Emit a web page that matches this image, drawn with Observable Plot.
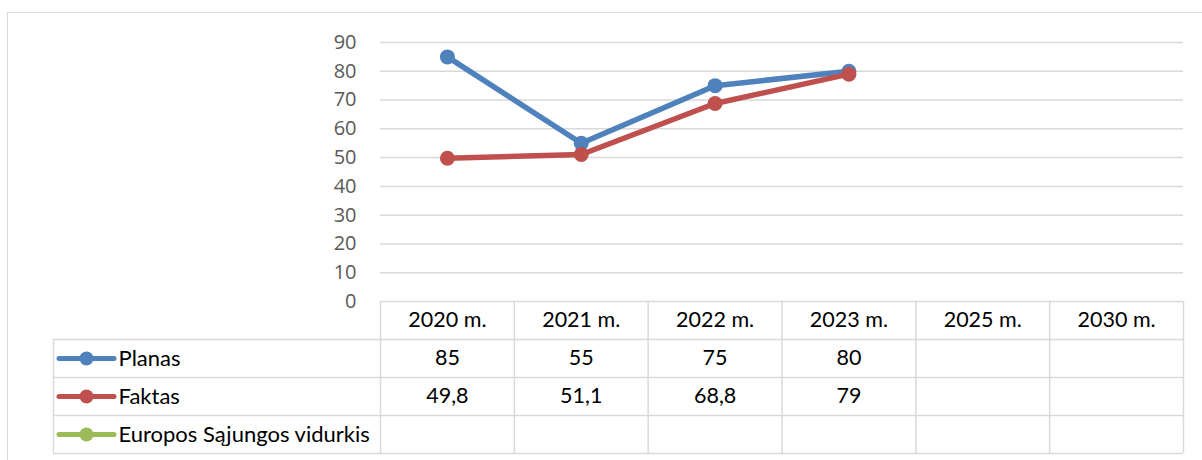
<!DOCTYPE html>
<html><head><meta charset="utf-8">
<script src="https://cdn.jsdelivr.net/npm/d3@7"></script>
<script src="https://cdn.jsdelivr.net/npm/@observablehq/plot@0.6"></script>
<style>
body{margin:0;background:#fff;}
#wrap{position:relative;width:1202px;height:460px;overflow:hidden;background:#fff;}
#border{position:absolute;left:7px;top:12px;width:1300px;height:600px;border:1.5px solid #d9d9d9;box-sizing:border-box}
#chart{position:absolute;left:0;top:0}
</style></head><body>
<div id="wrap"><div id="border"></div><div id="chart"></div></div>
<script>
// ---- data ----
const categories = ["2020 m.", "2021 m.", "2022 m.", "2023 m.", "2025 m.", "2030 m."];
const seriesNames = ["Planas", "Faktas", "Europos Sąjungos vidurkis"];
const planas = [85, 55, 75, 80, null, null];
const faktas = [49.8, 51.1, 68.8, 79, null, null];
const esVidurkis = [null, null, null, null, null, null];
const seriesColors = ["#4F81BD", "#C0504D", "#9BBB59"];
const yTicks = [0, 10, 20, 30, 40, 50, 60, 70, 80, 90];

const seriesValues = [planas, faktas, esVidurkis];
const rows = seriesNames.flatMap((s, k) =>
  categories.map((c, i) => ({series: s, category: c, value: seriesValues[k][i]})));

// ---- layout ----
const W = 1202, H = 460, mL = 380, mR = 19, mT = 42, mB = 159;
const plotH = H - mT - mB;
const bw = (W - mL - mR) / categories.length;
const rowH = 38;
const legendLeft = 53;
const grid = "#d9d9d9";
const fmt = v => String(v).replace(".", ",");
const txt = {fontFamily: "Lato", fontSize: 21.5, fill: "#000", lineAnchor: "middle"};

const marks = [];
// gridlines
marks.push(Plot.ruleY(yTicks.filter(t => t > 0), {stroke: grid, strokeWidth: 1.5}));
// y axis labels
marks.push(Plot.axisY(yTicks, {tickSize: 0, tickPadding: 24, label: null, fontFamily: "Open Sans", fontSize: 20, color: "#595959"}));

// data table grid
marks.push(Plot.ruleY([0], {stroke: grid, strokeWidth: 1.5}));
for (let k = 1; k <= seriesNames.length + 1; k++) {
  marks.push(Plot.ruleY([0], {dy: k * rowH, insetLeft: -(mL - legendLeft), stroke: grid, strokeWidth: 1.5}));
}
marks.push(Plot.ruleX(categories, {x: d => d, dx: -bw / 2, insetTop: plotH, insetBottom: -(seriesNames.length + 1) * rowH, stroke: grid, strokeWidth: 1.5}));
marks.push(Plot.ruleX([categories[categories.length - 1]], {x: d => d, dx: bw / 2, insetTop: plotH, insetBottom: -(seriesNames.length + 1) * rowH, stroke: grid, strokeWidth: 1.5}));
marks.push(Plot.ruleX([categories[0]], {x: d => d, dx: -bw / 2 - (mL - legendLeft), insetTop: plotH + rowH, insetBottom: -(seriesNames.length + 1) * rowH, stroke: grid, strokeWidth: 1.5}));

// header text
marks.push(Plot.text(categories, {x: d => d, frameAnchor: "bottom", dy: rowH / 2, text: d => d, ...txt}));

seriesNames.forEach((name, k) => {
  const color = seriesColors[k];
  const dyRow = rowH * (k + 1) + rowH / 2;
  const sdata = rows.filter(d => d.series === name && d.value != null);
  // chart line + markers
  marks.push(Plot.line(sdata, {x: "category", y: "value", stroke: color, strokeWidth: 5.5, strokeLinejoin: "round", strokeLinecap: "round"}));
  marks.push(Plot.dot(sdata, {x: "category", y: "value", r: 7.5, fill: color, stroke: null}));
  // table values
  marks.push(Plot.text(sdata, {x: "category", frameAnchor: "bottom", dy: dyRow, text: d => fmt(d.value), ...txt}));
  // legend swatch
  marks.push(Plot.ruleY([0], {dy: dyRow, insetLeft: -(mL - 59), insetRight: (W - mR) - 114, stroke: color, strokeWidth: 5, strokeLinecap: "round"}));
  marks.push(Plot.dot([name], {frameAnchor: "bottom-left", dx: 86 - mL, dy: dyRow, r: 7, fill: color, stroke: null}));
  marks.push(Plot.text([name], {frameAnchor: "bottom-left", dx: 118 - mL, dy: dyRow, textAnchor: "start", text: d => d, ...txt, fontSize: 22}));
});

const chart = Plot.plot({
  width: W, height: H,
  marginLeft: mL, marginRight: mR, marginTop: mT, marginBottom: mB,
  x: {type: "band", domain: categories, padding: 0, round: false, axis: null},
  y: {domain: [0, 90], axis: null},
  style: {background: "transparent", fontFamily: "Lato", fontSize: "21px", overflow: "visible"},
  marks
});
document.getElementById("chart").appendChild(chart);
</script>
</body></html>
